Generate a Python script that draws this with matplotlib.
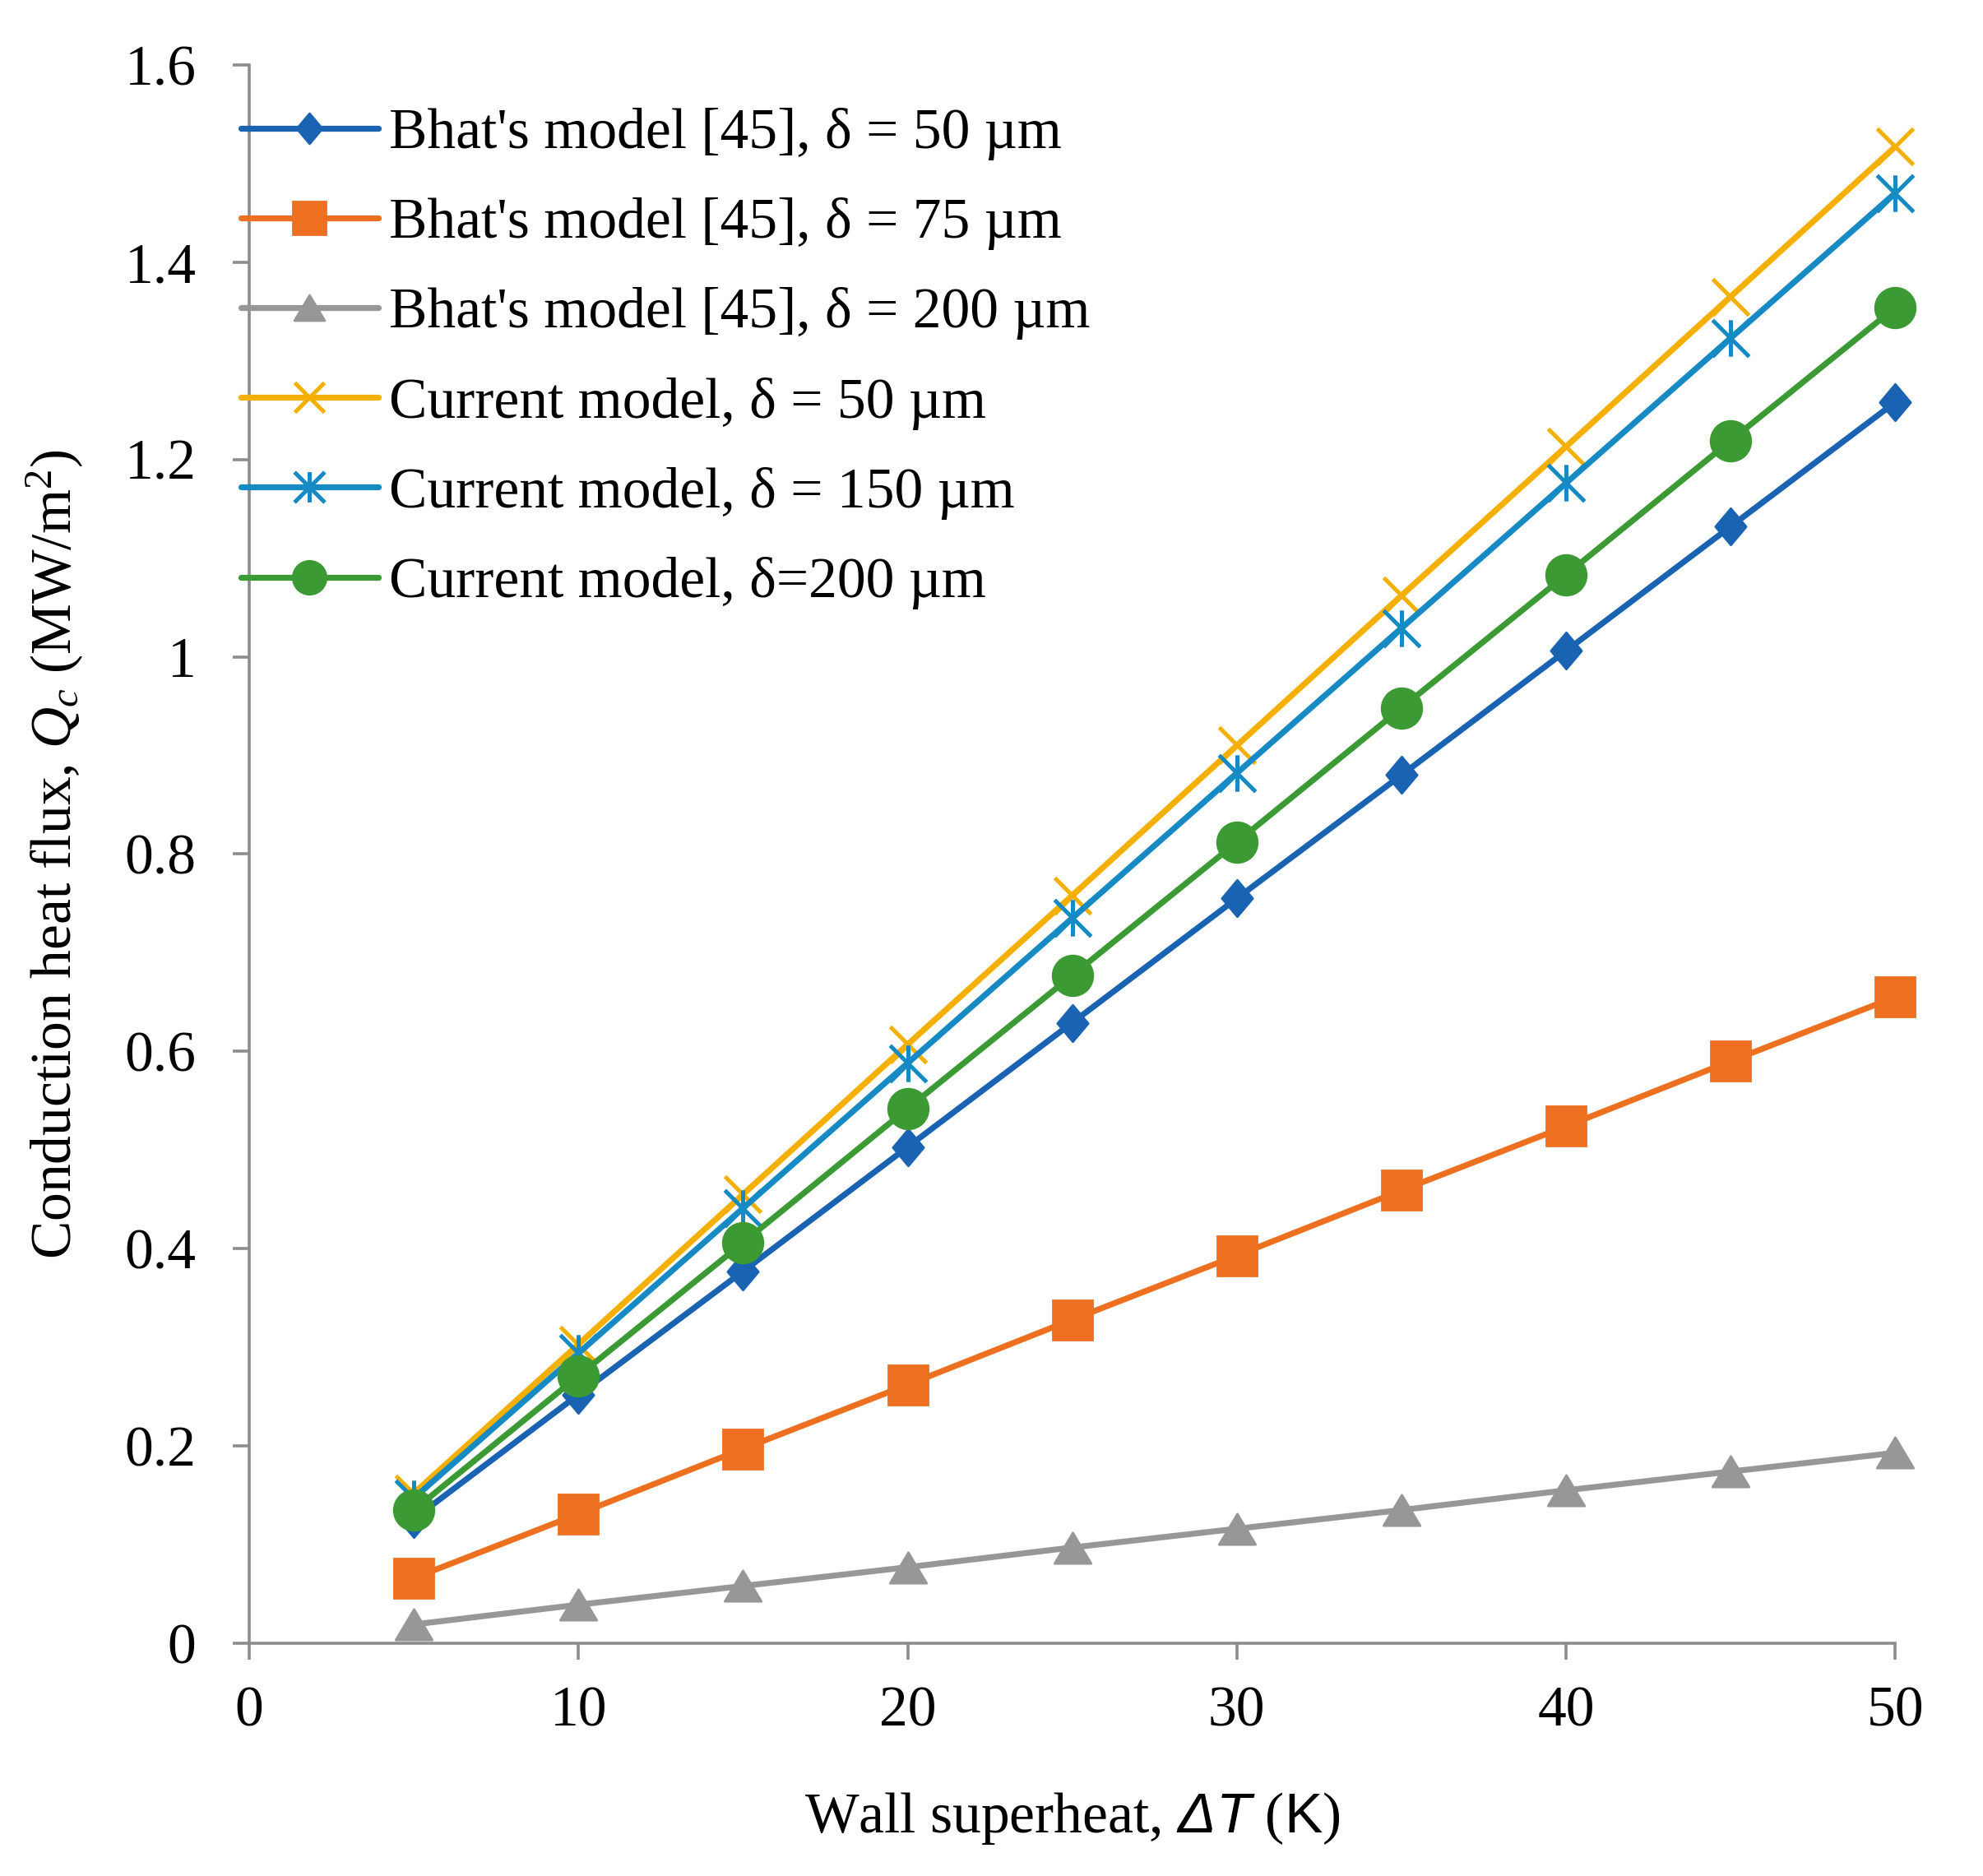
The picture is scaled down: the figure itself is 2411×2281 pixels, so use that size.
import numpy as np
import matplotlib.pyplot as plt
from matplotlib.path import Path
from matplotlib.ticker import FuncFormatter

plt.rcParams['font.family'] = ['Liberation Serif', 'DejaVu Serif']
plt.rcParams['mathtext.fontset'] = 'custom'
plt.rcParams['mathtext.rm'] = 'Liberation Serif'
plt.rcParams['mathtext.it'] = 'Liberation Serif:italic'
plt.rcParams['mathtext.sf'] = 'Liberation Sans:italic'
plt.rcParams['mathtext.tt'] = 'Liberation Sans'

# Data
dT = [5, 10, 15, 20, 25, 30, 35, 40, 45, 50]
bhat_50 = [0.126, 0.252, 0.377, 0.503, 0.629, 0.755, 0.880, 1.006, 1.132, 1.258]
bhat_75 = [0.066, 0.131, 0.197, 0.262, 0.328, 0.393, 0.459, 0.524, 0.590, 0.655]
bhat_200 = [0.019, 0.039, 0.058, 0.077, 0.097, 0.116, 0.135, 0.155, 0.174, 0.193]
cur_50 = [0.152, 0.303, 0.455, 0.607, 0.758, 0.910, 1.062, 1.213, 1.365, 1.517]
cur_150 = [0.147, 0.294, 0.441, 0.588, 0.735, 0.882, 1.029, 1.176, 1.323, 1.470]
cur_200 = [0.135, 0.271, 0.406, 0.542, 0.677, 0.812, 0.948, 1.083, 1.219, 1.354]

labels = ["Bhat's model [45], \u03b4 = 50 \u00b5m",
          "Bhat's model [45], \u03b4 = 75 \u00b5m",
          "Bhat's model [45], \u03b4 = 200 \u00b5m",
          "Current model, \u03b4 = 50 \u00b5m",
          "Current model, \u03b4 = 150 \u00b5m",
          "Current model, \u03b4=200 \u00b5m"]

# Excel-like marker shapes
diamond = Path([(0, 1), (0.84, 0), (0, -1), (-0.84, 0), (0, 1)],
               [Path.MOVETO, Path.LINETO, Path.LINETO, Path.LINETO, Path.CLOSEPOLY])
triangle = Path([(0, 0.84), (1, -0.84), (-1, -0.84), (0, 0.84)],
                [Path.MOVETO, Path.LINETO, Path.LINETO, Path.CLOSEPOLY])
asterisk = Path([(-1, -1), (1, 1), (-1, 1), (1, -1), (0, -1), (0, 1)],
                [Path.MOVETO, Path.LINETO, Path.MOVETO, Path.LINETO, Path.MOVETO, Path.LINETO])

fig = plt.figure(figsize=(12.055, 11.405), dpi=200)
ax = fig.add_axes([0.1257, 0.1241, 0.830, 0.8413])

lw = 2.6
kw = dict(lw=lw, solid_capstyle='round', clip_on=False)
ax.plot(dT, bhat_50, color='#1a63b3', marker=diamond, ms=16, label=labels[0], **kw)
ax.plot(dT, bhat_75, color='#ed7021', marker='s', ms=17, label=labels[1], **kw)
ax.plot(dT, bhat_200, color='#979797', marker=triangle, ms=16, label=labels[2], **kw)
ax.plot(dT, cur_50, color='#f4b000', marker='x', ms=16, mew=1.8, label=labels[3], **kw)
ax.plot(dT, cur_150, color='#178ac4', marker=asterisk, ms=16, mew=1.8, label=labels[4], **kw)
ax.plot(dT, cur_200, color='#3c9a34', marker='o', ms=17.5, label=labels[5], **kw)

ax.set_xlim(0, 50)
ax.set_ylim(0, 1.6)
ax.set_xticks(np.arange(0, 51, 10))
ax.set_yticks(np.arange(0, 1.61, 0.2))
ax.yaxis.set_major_formatter(FuncFormatter(lambda v, p: f'{v:g}'))

for s in ['top', 'right']:
    ax.spines[s].set_visible(False)
for s in ['left', 'bottom']:
    ax.spines[s].set_color('#8c8c8c')
    ax.spines[s].set_linewidth(1.3)
    ax.spines[s].set_zorder(1)
ax.tick_params(axis='both', colors='#8c8c8c', labelcolor='black', width=1.3,
               length=7.2, labelsize=25)
ax.tick_params(axis='x', pad=11.5)
ax.tick_params(axis='y', pad=16)

ax.set_xlabel(r'Wall superheat, $\mathsf{\Delta T}$ ($\mathtt{K}$)', fontsize=25, labelpad=23)
ax.set_ylabel(r'Conduction heat flux, $Q_c$ (MW/m$^2$)', fontsize=25, labelpad=17)

ax.legend(loc='upper left', bbox_to_anchor=(0.1215, 0.9425), bbox_transform=fig.transFigure,
          frameon=False, fontsize=25, handlelength=2.4, handletextpad=0.2,
          labelspacing=0.65, borderpad=0, borderaxespad=0, markerscale=0.83)

fig.savefig('out.png', dpi=200)
